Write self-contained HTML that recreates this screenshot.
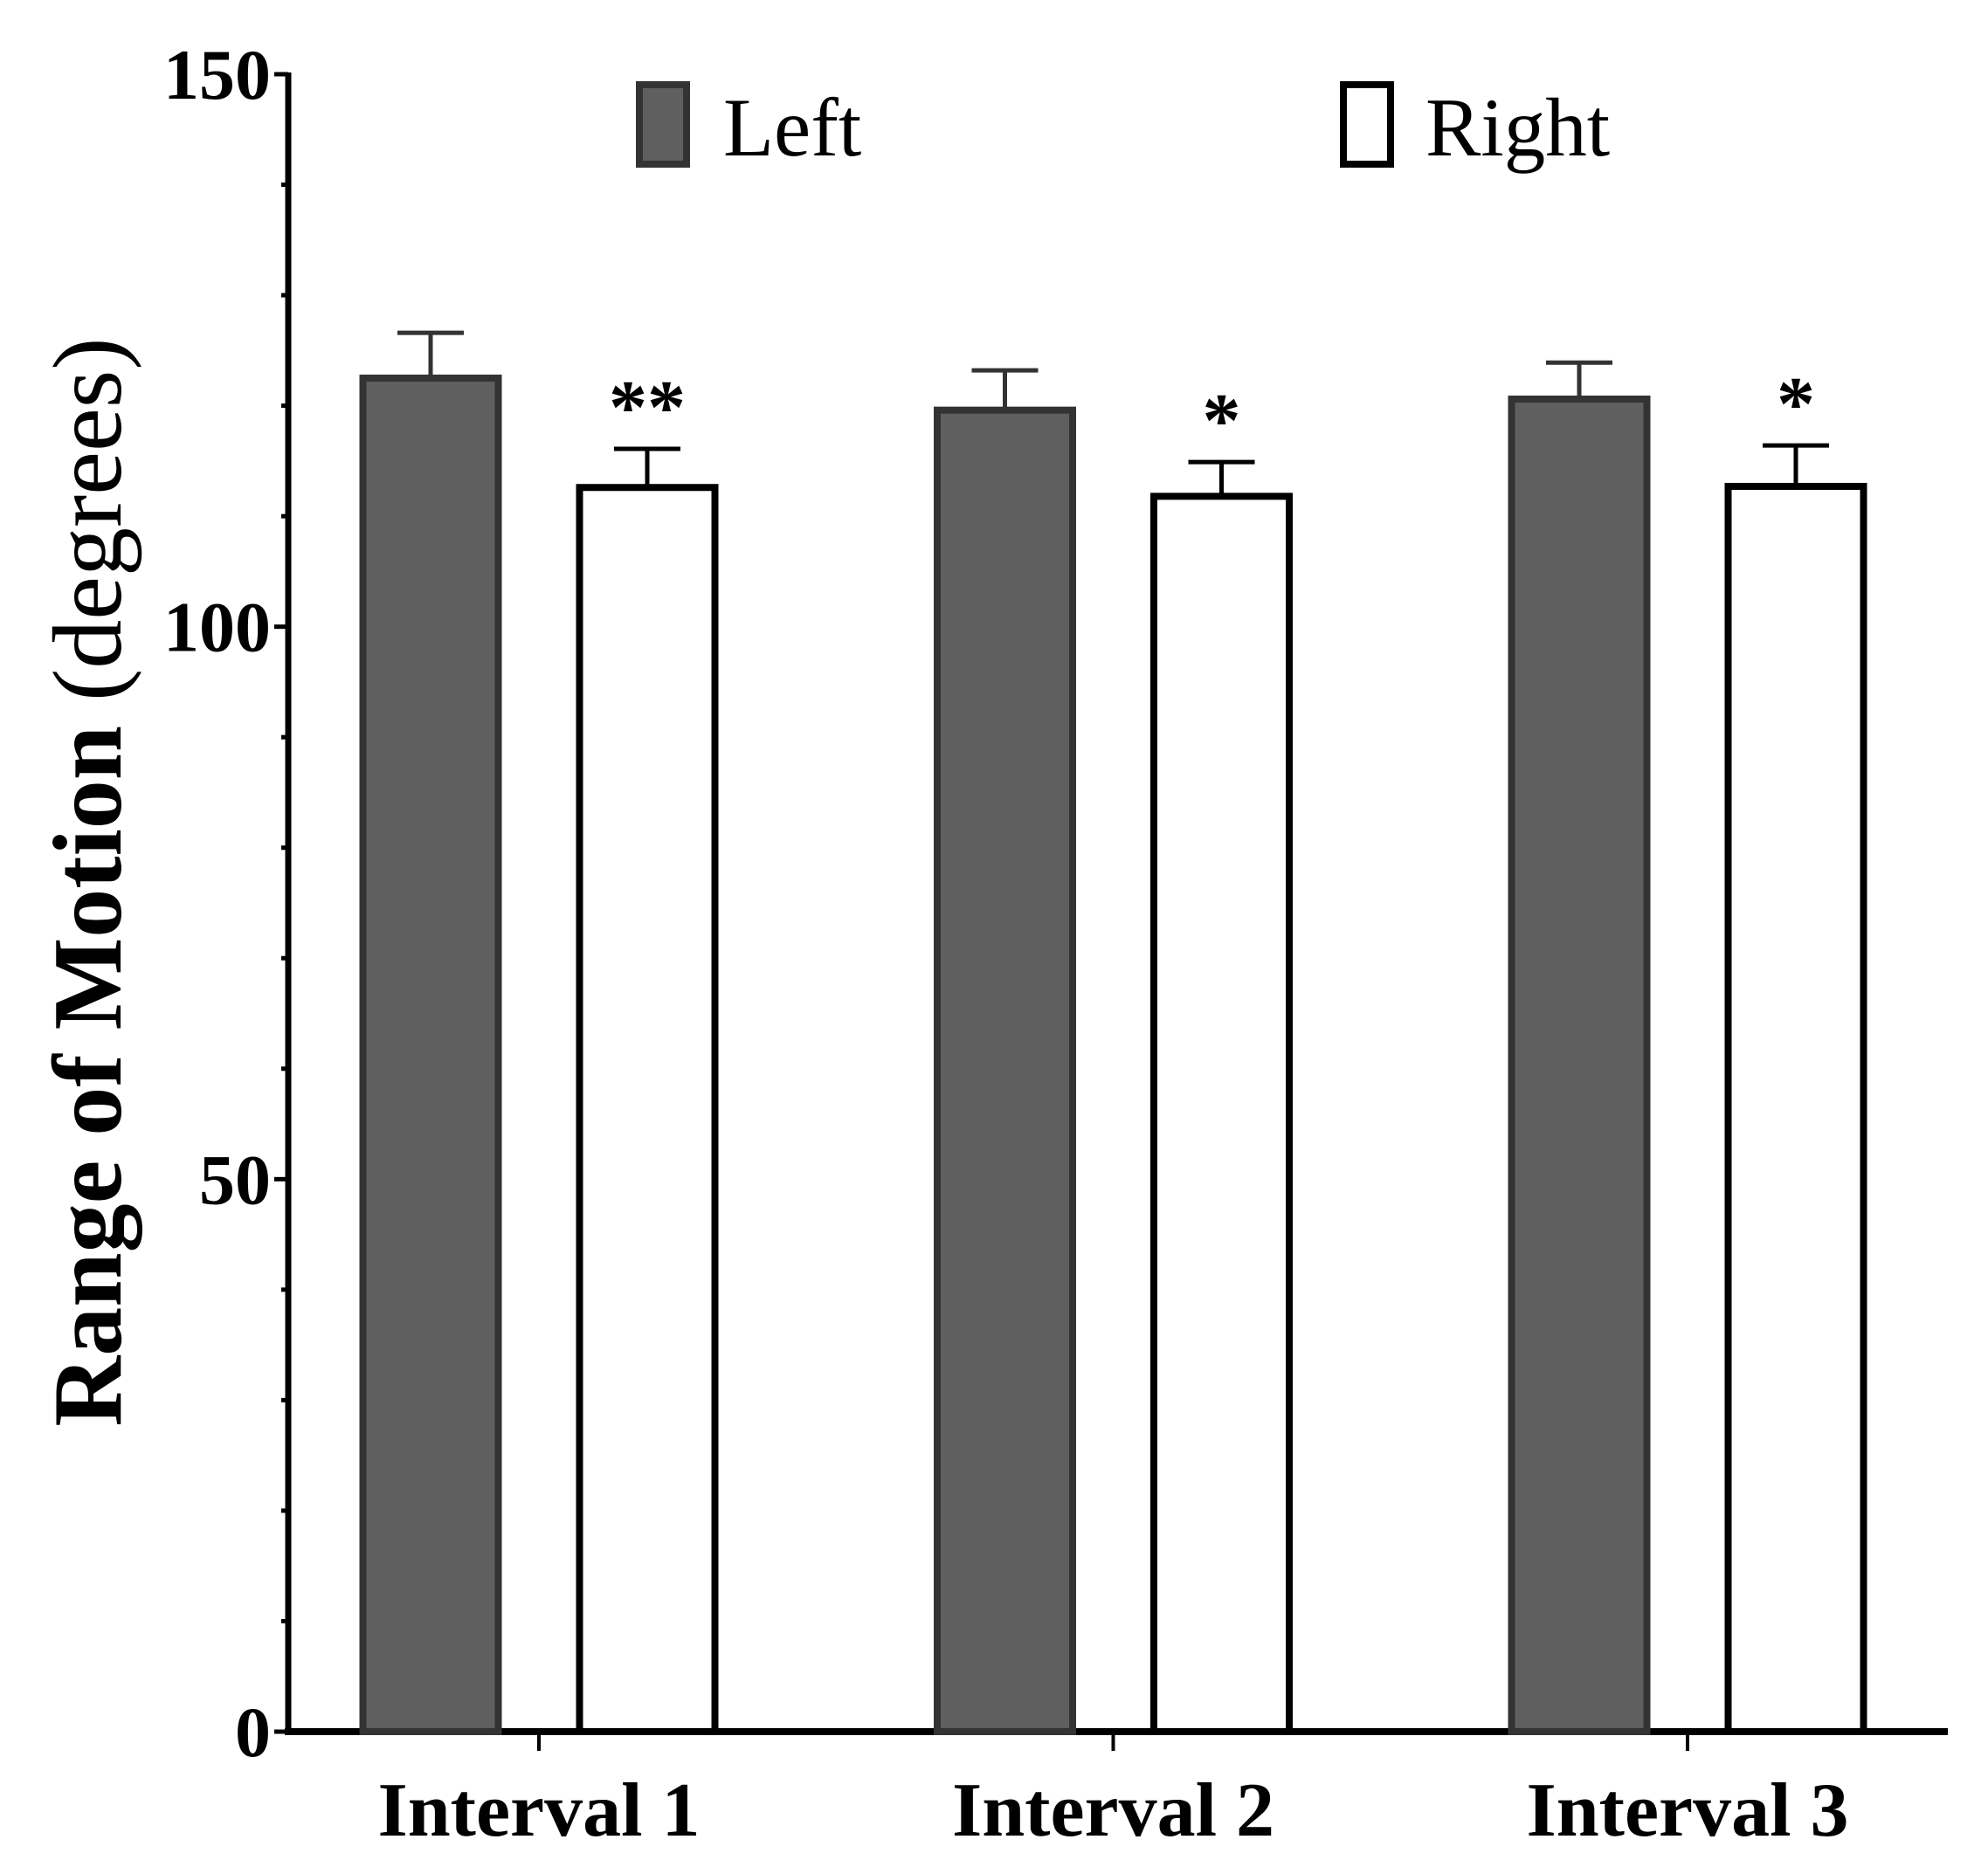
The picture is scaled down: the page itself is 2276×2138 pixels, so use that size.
<!DOCTYPE html>
<html><head><meta charset="utf-8"><style>
html,body{margin:0;padding:0;background:#fff;}
svg text{font-family:"Liberation Serif",serif;}
</style></head><body>
<svg id="chart" width="2276" height="2133" viewBox="0 0 2276 2133" xmlns="http://www.w3.org/2000/svg">
<g id="axes"></g>
<g id="bars"></g>
<g>
<text transform="translate(138,1010) rotate(-90)" text-anchor="middle" font-size="112"><tspan font-weight="bold">Range of Motion</tspan> (degrees)</text>
</g>
<g>
<rect x="732" y="97" width="54" height="91" fill="#5f5f5f" stroke="#333" stroke-width="8"/>
<text x="828" y="178" font-size="95">Left</text>
<rect x="1538" y="97" width="54" height="91" fill="#fff" stroke="#000" stroke-width="8"/>
<text x="1632" y="178" font-size="95">Right</text>
</g>
<script>
const categories = ["Interval 1","Interval 2","Interval 3"];
const leftValues = [122.5, 119.6, 120.6];
const leftErrors = [4.1, 3.6, 3.3];
const rightValues = [112.6, 111.8, 112.7];
const rightErrors = [3.5, 3.1, 3.7];
const significance = ["**","*","*"];
const yTicks = [0, 50, 100, 150];

const NS = "http://www.w3.org/2000/svg";
const x0 = 330, x1 = 2230, yTop = 85, yBot = 1983, yMax = 150;
const y = v => yBot - (v / yMax) * (yBot - yTop);
const groupCenter = i => 617 + i * 657.5;
const barW = 155, offset = 124;
function mk(tag, attrs, parent){ const e = document.createElementNS(NS, tag); for (const k in attrs) e.setAttribute(k, attrs[k]); parent.appendChild(e); return e; }
const axes = document.getElementById('axes');
const bars = document.getElementById('bars');

categories.forEach((c, i) => {
  const cx = groupCenter(i);
  [[leftValues[i], leftErrors[i], cx - offset, '#5f5f5f', '#333', 'left'], [rightValues[i], rightErrors[i], cx + offset, '#fff', '#000', 'right']].forEach(([v, e, bx, fill, stroke, side]) => {
    const eb = mk('line', {x1: bx, x2: bx, y1: y(v), y2: y(v + e), stroke: stroke, 'stroke-width': 5}, bars);
    
    
    const cap = mk('line', {x1: bx - 38, x2: bx + 38, y1: y(v + e), y2: y(v + e), stroke: stroke, 'stroke-width': 5}, bars);
    
    
    const r = mk('rect', {x: bx - barW / 2, y: y(v), width: barW, height: yBot - y(v), fill: fill, stroke: stroke, 'stroke-width': 8}, bars);
    
    
  });
  const rx = cx + offset;
  const st = mk('text', {x: rx, y: y(rightValues[i] + rightErrors[i]) - 18, 'text-anchor': 'middle', 'font-size': 88, 'font-weight': 'bold', 'font-family': '"Liberation Sans",sans-serif'}, bars);
  st.textContent = significance[i];
  
  
  const tk = mk('line', {x1: cx, x2: cx, y1: yBot, y2: yBot + 22, stroke: '#000', 'stroke-width': 4}, axes);
  
  
  const lb = mk('text', {x: cx, y: 2102, 'text-anchor': 'middle', 'font-size': 88, 'font-weight': 'bold'}, axes);
  lb.textContent = c;
  
  
});

for (let v = 0; v <= yMax; v += 10) {
  const major = yTicks.includes(v);
  const t = mk('line', {x1: x0 - (major ? 16 : 8), x2: x0, y1: y(v), y2: y(v), stroke: '#000', 'stroke-width': 5}, axes);
  
  
}
yTicks.forEach(v => {
  const t = mk('text', {x: x0 - 20, y: y(v) + 28, 'text-anchor': 'end', 'font-size': 82, 'font-weight': 'bold'}, axes);
  t.textContent = v;
  
  
});
const ya = mk('line', {x1: x0, x2: x0, y1: yTop - 2, y2: yBot + 4, stroke: '#000', 'stroke-width': 7}, axes);


const xa = mk('line', {x1: x0 - 4, x2: x1, y1: yBot, y2: yBot, stroke: '#000', 'stroke-width': 8}, axes);


</script>
</svg>
</body></html>
